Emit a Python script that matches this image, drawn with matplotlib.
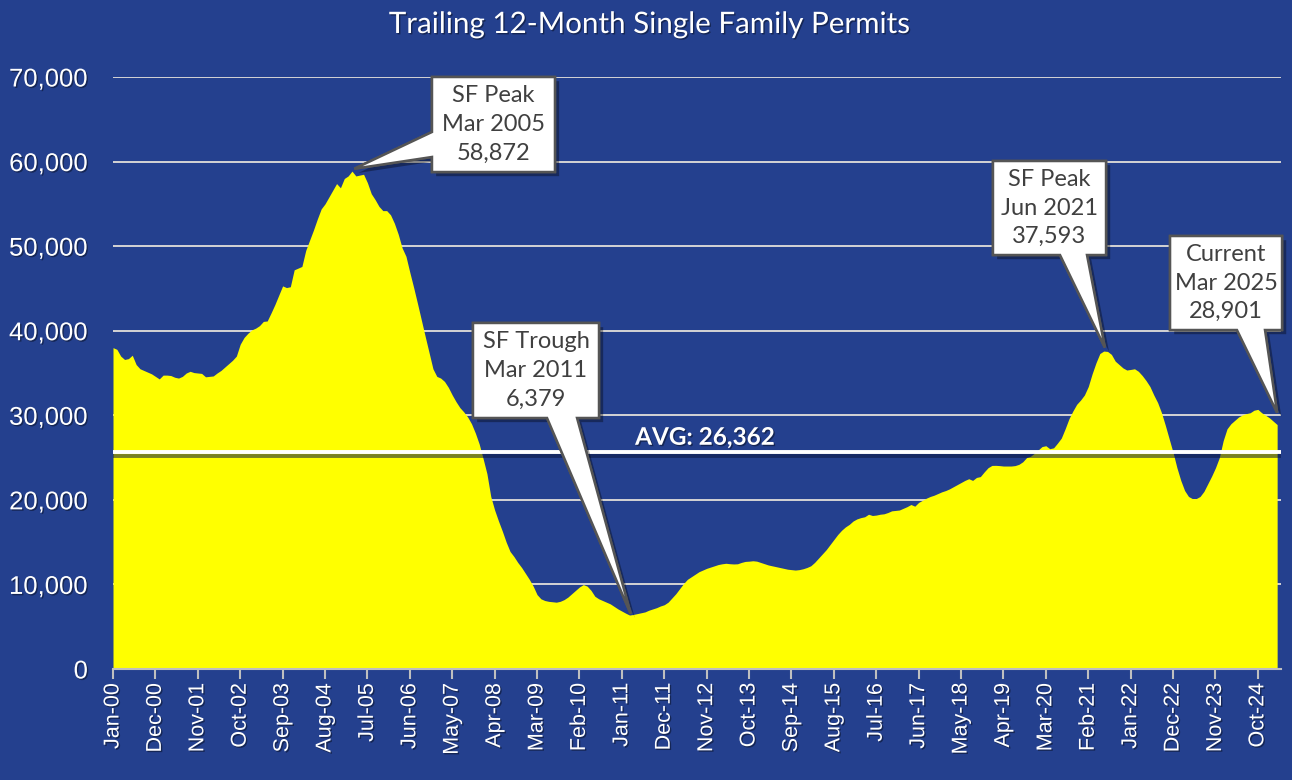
import matplotlib
matplotlib.use("Agg")
import matplotlib.pyplot as plt
import matplotlib.patheffects as pe
from matplotlib.patches import Polygon
import numpy as np

# ---------------- data ----------------
permits = [
    # 2000
    38000, 37800, 37000, 36600, 36700, 37100, 36000, 35500, 35300, 35100, 34900, 34600,
    # 2001
    34300, 34750, 34750, 34700, 34500, 34400, 34600, 35000, 35200, 35050, 35000, 34950,
    # 2002
    34550, 34600, 34650, 35000, 35300, 35700, 36100, 36500, 37000, 38400, 39200, 39700,
    # 2003
    40100, 40300, 40600, 41100, 41150, 42100, 43100, 44200, 45300, 45100, 45200, 47200,
    # 2004
    47400, 47600, 49500, 50700, 51900, 53200, 54400, 55000, 55800, 56600, 57400, 56900,
    # 2005
    58000, 58300, 58872, 58300, 58400, 58500, 57500, 56200, 55500, 54700, 54200, 54200,
    # 2006
    53700, 52700, 51400, 49800, 48800, 46900, 45100, 43200, 41250, 39300, 37400, 35500,
    # 2007
    34600, 34400, 34000, 33300, 32400, 31600, 30900, 30400, 29800, 29000, 27900, 26600,
    # 2008
    24900, 23100, 20400, 18800, 17500, 16300, 15000, 13900, 13300, 12600, 12000, 11300,
    # 2009
    10600, 9800, 8800, 8300, 8100, 8000, 7950, 7900, 8000, 8200, 8500, 8900,
    # 2010
    9300, 9700, 9980, 9800, 9300, 8600, 8300, 8100, 7900, 7700, 7400, 7100,
    # 2011
    6850, 6600, 6379, 6450, 6550, 6650, 6750, 6950, 7100, 7250, 7450, 7600,
    # 2012
    7900, 8400, 8900, 9500, 10100, 10600, 10900, 11200, 11500, 11700, 11900, 12050,
    # 2013
    12200, 12350, 12440, 12500, 12450, 12420, 12440, 12600, 12720, 12750, 12800, 12750,
    # 2014
    12600, 12450, 12300, 12200, 12100, 12000, 11900, 11800, 11750, 11700, 11750, 11850,
    # 2015
    12000, 12200, 12600, 13100, 13600, 14100, 14700, 15300, 15900, 16400, 16800, 17100,
    # 2016
    17500, 17750, 17900, 18000, 18300, 18150, 18200, 18300, 18350, 18500, 18700, 18750,
    # 2017
    18800, 19000, 19200, 19450, 19250, 19700, 19950, 20200, 20400, 20550, 20750, 20950,
    # 2018
    21100, 21300, 21550, 21800, 22050, 22300, 22500, 22300, 22650, 22750, 23300, 23800,
    # 2019
    24070, 24080, 24050, 24000, 24000, 24000, 24050, 24200, 24500, 25000, 25150, 25500,
    # 2020
    25900, 26300, 26400, 26050, 26150, 26700, 27300, 28400, 29600, 30500, 31300, 31800,
    # 2021
    32400, 33400, 34900, 36200, 37300, 37593, 37550, 37200, 36400, 36000, 35600, 35350,
    # 2022
    35420, 35500, 35200, 34700, 34100, 33400, 32400, 31500, 30300, 28800, 27200, 25600,
    # 2023
    23800, 22300, 21100, 20400, 20150, 20150, 20400, 21000, 21900, 22800, 23800, 25000,
    # 2024
    27000, 28400, 29000, 29400, 29800, 30050, 30200, 30300, 30600, 30700, 30300, 30000,
    # 2025
    29700, 29300, 28901,
]

tick_labels = ["Jan-00", "Dec-00", "Nov-01", "Oct-02", "Sep-03", "Aug-04", "Jul-05",
               "Jun-06", "May-07", "Apr-08", "Mar-09", "Feb-10", "Jan-11", "Dec-11",
               "Nov-12", "Oct-13", "Sep-14", "Aug-15", "Jul-16", "Jun-17", "May-18",
               "Apr-19", "Mar-20", "Feb-21", "Jan-22", "Dec-22", "Nov-23", "Oct-24"]

avg_label = "AVG: 26,362"
avg_line_value = 25650

callout_texts = ["SF Peak\nMar 2005\n58,872",
                 "SF Trough\nMar 2011\n6,379",
                 "SF Peak\nJun 2021\n37,593",
                 "Current\nMar 2025\n28,901"]
callout_months = [62, 134, 257, 302]          # index of annotated month

title = "Trailing 12-Month Single Family Permits"

# ---------------- style ----------------
BG = "#24408E"
YELLOW = "#FFFF00"
GRID = "#D4D4D4"
SHADOW = [pe.withSimplePatchShadow(offset=(1, -1), shadow_rgbFace="black", alpha=0.4)]

fig = plt.figure(figsize=(12.92, 7.80), dpi=100, facecolor=BG)
ax = fig.add_axes([113 / 1292, 111 / 780, 1168 / 1292, 592 / 780])
ax.set_facecolor(BG)

x = np.arange(len(permits))
y = np.array(permits, dtype=float)

ax.set_xlim(0, 303)
ax.set_ylim(0, 70000)

# gridlines
ax.set_yticks(np.arange(0, 70001, 10000))
ax.yaxis.grid(True, color=GRID, lw=1.4, zorder=0)
ax.set_axisbelow(True)

ax.fill_between(x, 0, y, color=YELLOW, lw=0, zorder=2)

# average line
ax.axhline(avg_line_value, color="white", lw=2.8, zorder=3,
           path_effects=[pe.SimpleLineShadow(offset=(0, -3), shadow_color="#0A1640", alpha=0.55),
                         pe.Normal()])
ax.text(0.447, (avg_line_value + 1750) / 70000, avg_label, transform=ax.transAxes,
        ha="left", va="center", color="white", fontsize=17.5, fontweight="bold",
        family=["Lato", "DejaVu Sans"], zorder=4, path_effects=SHADOW)

# axes styling
for s in ["top", "right", "left"]:
    ax.spines[s].set_visible(False)
ax.spines["bottom"].set_color("#BFBFBF")
ax.spines["bottom"].set_linewidth(1.5)
ax.spines["bottom"].set_zorder(3)

ax.yaxis.set_major_formatter(matplotlib.ticker.FuncFormatter(lambda v, p: f"{int(v):,}"))
ax.tick_params(axis="y", length=0, pad=18, labelsize=18.5, labelcolor="white")
for lab in ax.get_yticklabels():
    lab.set_family(["Liberation Sans", "DejaVu Sans"])
    lab.set_path_effects(SHADOW)

ax.set_xticks(np.arange(0, len(permits), 11))
ax.set_xticklabels(tick_labels, rotation=90, fontsize=15.5, color="white",
                   family=["Liberation Sans", "DejaVu Sans"])
ax.tick_params(axis="x", length=7, width=1.5, color="#BFBFBF", pad=3, direction="out")
for lab in ax.get_xticklabels():
    lab.set_path_effects(SHADOW)

# title
fig.text(650 / 1292, 1 - 24 / 780, title, ha="center", va="center", color="white",
         fontsize=21.3, family=["Lato", "DejaVu Sans"], path_effects=SHADOW)

# ---------------- callouts ----------------
# box extents in axes fraction: (x0, x1, y0, y1), pointer side and base positions
boxes = [
    dict(box=(0.2731, 0.3784, 0.8395, 1.0), side="left", base=(0.8649, 0.9071)),
    dict(box=(0.3082, 0.4161, 0.4240, 0.5845), side="bottom", base=(0.3716, 0.3973)),
    dict(box=(0.7534, 0.8502, 0.6993, 0.8581), side="bottom", base=(0.8108, 0.8339)),
    dict(box=(0.9050, 1.0009, 0.5726, 0.7314), side="bottom", base=(0.9623, 0.9863)),
]
tip_offsets = [(0.002, 0.004), (0.001, 0.002), (0.001, 0.006), (0.0, 0.02)]

to_axes = ax.transAxes.inverted()
for txt, m, b, off in zip(callout_texts, callout_months, boxes, tip_offsets):
    tx, ty = to_axes.transform(ax.transData.transform((x[m], y[m])))
    tx += off[0]
    ty += off[1]
    x0, x1, y0, y1 = b["box"]
    b1, b2 = b["base"]
    if b["side"] == "bottom":
        verts = [(x0, y0), (b1, y0), (tx, ty), (b2, y0), (x1, y0), (x1, y1), (x0, y1)]
    else:
        verts = [(x0, y1), (x0, b2), (tx, ty), (x0, b1), (x0, y0), (x1, y0), (x1, y1)]
    poly = Polygon(verts, closed=True, transform=ax.transAxes, clip_on=False,
                   facecolor="white", edgecolor="#555555", lw=1.8, joinstyle="miter", zorder=6,
                   path_effects=[pe.withSimplePatchShadow(offset=(3, -3), shadow_rgbFace="black", alpha=0.35),
                                 pe.Normal()])
    ax.add_patch(poly)
    ax.text((x0 + x1) / 2, (y0 + y1) / 2, txt, transform=ax.transAxes, ha="center", va="center",
            fontsize=17, color="#404040", linespacing=1.45, family=["Lato", "DejaVu Sans"],
            zorder=7, clip_on=False)

fig.savefig("out.png", dpi=100, facecolor=BG)
